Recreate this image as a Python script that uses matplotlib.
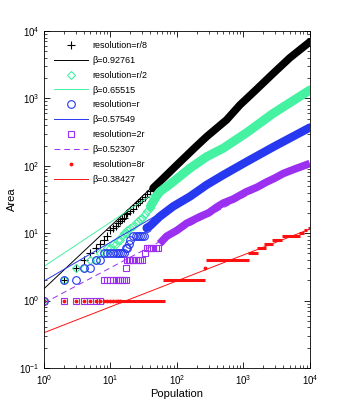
import matplotlib
matplotlib.use("Agg")
import matplotlib.pyplot as plt
import numpy as np

plt.rcParams['font.family'] = ['Liberation Sans', 'DejaVu Sans']
plt.rcParams['mathtext.default'] = 'regular'

# --- data (population vs area) ---
# r/8
black_pop = [1, 2, 3, 4, 5, 6, 7, 8, 9, 10, 11, 12, 13, 14, 15, 16, 17, 18, 20, 22, 24, 26, 28, 30, 33, 36, 40, 44]
black_area = [1, 2, 3, 4, 5, 6, 7, 8, 9, 11, 12, 13, 14, 15, 16, 17, 19, 20, 21, 23, 26, 28, 30, 32, 35, 38, 42, 47]
black_band_pop = [44, 62, 100, 180, 279, 558, 888, 1500, 2810, 5000, 10000]
black_band_area = [47, 65, 103, 180, 270, 480, 800, 1300, 2350, 4000, 6900]

# r/2
green_pop = [1, 2, 3, 4, 5, 6, 7, 8, 9, 10, 11, 12, 13, 14, 15, 16, 17, 18, 20, 22, 24, 26, 28, 30, 33, 36, 40]
green_area = [1, 2, 3, 3, 4, 4, 5, 5, 6, 6, 7, 7, 8, 8, 9, 10, 10, 11, 12, 13, 14, 15, 16, 17, 19, 21, 24]
green_band_pop = [40, 48, 55, 88, 157, 279, 497, 1120, 2810, 10000]
green_band_area = [25, 34, 41, 58, 92, 136, 182, 310, 600, 1330]

# r
blue_pop = [1, 2, 3, 4, 5, 6, 7, 8, 9, 10, 11, 12, 13, 14, 15, 16, 17, 18, 19, 20, 22, 24, 26, 28, 30, 32, 35]
blue_area = [1, 2, 2, 3, 3, 4, 4, 5, 5, 5, 5, 5, 5, 5, 5, 5, 6, 6, 7, 8, 9, 9, 9, 9, 9, 9, 12]
blue_band_pop = [35, 40, 55, 88, 157, 279, 497, 1120, 2810, 10000]
blue_band_area = [12, 13, 17.6, 25, 35, 52, 73, 115, 190, 370]

# 2r
purple_pop = [1, 2, 3, 4, 5, 6, 7, 8, 9, 10, 11, 12, 13, 14, 15, 16, 17, 17, 18, 19, 20, 21, 22, 24, 26, 28, 30,
              33, 35, 38, 41, 44, 48, 52]
purple_area = [1, 1, 1, 1, 1, 1, 1, 2, 2, 2, 2, 2, 2, 2, 2, 2, 2, 3, 4, 4, 4, 4, 4, 4, 4, 4, 4,
               5, 6, 6, 6, 6, 6, 6]
purple_band_pop = [55, 70, 100, 140, 220, 300, 400, 500, 700, 1100, 1600, 2200, 3000, 4000, 6000, 10000]
purple_band_area = [7, 9, 11, 14, 17.5, 20, 24.5, 28, 32, 41, 48, 57, 66, 77, 90, 108]

# 8r
red_pop = [1, 2, 3, 4, 5, 6, 7, 8, 9, 10, 11, 12, 13, 14, 263]
red_area = [1, 1, 1, 1, 1, 1, 1, 1, 1, 1, 1, 1, 1, 1, 3]
red_level = [1, 2, 4, 5, 6, 7, 8, 9, 10, 11, 12]
red_start = [14, 62, 273, 1190, 1580, 2030, 2660, 3780, 6900, 8300, 9400]
red_end = [66, 263, 1220, 1660, 2200, 2810, 3780, 7050, 8300, 9000, 10000]

labels = ['resolution=r/8', 'resolution=r/2', 'resolution=r', 'resolution=2r', 'resolution=8r']
betas = [0.92761, 0.65515, 0.57549, 0.52307, 0.38427]
fit_c = [1.5, 3.22, 1.95, 0.92, 0.334]
colors = ['black', '#44F2A2', '#2638F0', '#9B30F0', '#FF1010']
line_styles = ['-', '-', '-', '--', '-']

fig = plt.figure(figsize=(3.42, 4.15), dpi=100)
ax = fig.add_axes([0.1287, 0.1133, 0.7773, 0.812])

fit_x = np.array([1, 1e4])
handles = []

# r/8
ax.plot(black_band_pop, black_band_area, color=colors[0], lw=5.5, solid_capstyle='round', solid_joinstyle='round')
h, = ax.plot(black_pop, black_area, '+', color=colors[0], ms=5.5, mew=0.8, label=labels[0])
handles.append(h)
h, = ax.plot(fit_x, fit_c[0] * fit_x ** betas[0], line_styles[0], color=colors[0], lw=0.7,
             label='β=%.5f' % betas[0])
handles.append(h)

# r/2
ax.plot(green_band_pop, green_band_area, color=colors[1], lw=6.5, solid_capstyle='round', solid_joinstyle='round')
h, = ax.plot(green_pop, green_area, 'D', mfc='none', mec=colors[1], ms=4.5, mew=0.8, label=labels[1])
handles.append(h)
h, = ax.plot(fit_x, fit_c[1] * fit_x ** betas[1], line_styles[1], color=colors[1], lw=0.7,
             label='β=%.5f' % betas[1])
handles.append(h)

# r
ax.plot(blue_band_pop, blue_band_area, color=colors[2], lw=6, solid_capstyle='round', solid_joinstyle='round')
h, = ax.plot(blue_pop, blue_area, 'o', mfc='none', mec=colors[2], ms=5.5, mew=0.8, label=labels[2])
handles.append(h)
h, = ax.plot(fit_x, fit_c[2] * fit_x ** betas[2], line_styles[2], color=colors[2], lw=0.7,
             label='β=%.5f' % betas[2])
handles.append(h)

# 2r
ax.plot(purple_band_pop, purple_band_area, color=colors[3], lw=5.5, solid_capstyle='butt', solid_joinstyle='miter')
h, = ax.plot(purple_pop, purple_area, 's', mfc='none', mec=colors[3], ms=4.5, mew=0.8, label=labels[3])
handles.append(h)
h, = ax.plot(fit_x, fit_c[3] * fit_x ** betas[3], line_styles[3], color=colors[3], lw=0.7, dashes=(6, 4),
             label='β=%.5f' % betas[3])
handles.append(h)

# 8r
ax.hlines(red_level, red_start, red_end, color=colors[4], lw=2.2)
h, = ax.plot(red_pop, red_area, '.', color=colors[4], ms=3.5, label=labels[4])
handles.append(h)
h, = ax.plot(fit_x, fit_c[4] * fit_x ** betas[4], line_styles[4], color=colors[4], lw=0.7,
             label='β=%.5f' % betas[4])
handles.append(h)

ax.set_xscale('log')
ax.set_yscale('log')
ax.set_xlim(1, 1e4)
ax.set_ylim(0.1, 1e4)
ax.tick_params(which='both', direction='in', top=True, right=True, labelsize=7)
ax.tick_params(which='major', length=4, width=0.6)
ax.tick_params(which='minor', length=2, width=0.5)
for s in ax.spines.values():
    s.set_linewidth(0.6)
ax.set_xlabel('Population', fontsize=8, labelpad=2)
ax.set_ylabel('Area', fontsize=8, labelpad=1)

ax.legend(handles=handles, loc='upper left', frameon=False, fontsize=6.5, handlelength=3.8,
          labelspacing=0.65, borderaxespad=0.7, handletextpad=0.45, numpoints=1)

fig.savefig('out.png', dpi=100)
